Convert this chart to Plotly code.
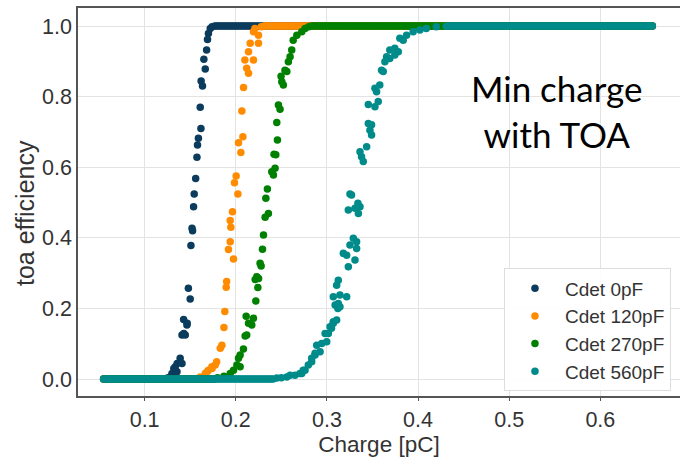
import numpy as np
import plotly.graph_objects as go

# Charge scan (pC) used for every Cdet setting
scan_start = 0.055
scan_stop = 0.658
scan_step = 0.002

series_names = ["Cdet 0pF", "Cdet 120pF", "Cdet 270pF", "Cdet 560pF"]
series_colors = ["#0b3c5d", "#ff8c00", "#008000", "#008b8b"]

# Efficiency is 0 below these charges and 1 above the second ones
zero_until = [0.125, 0.160, 0.178, 0.243]
one_from = [0.176, 0.230, 0.282, 0.433]

# Transition points
rise_x_0pF = [0.125, 0.128, 0.130, 0.132, 0.1336, 0.1355, 0.1357, 0.139, 0.141, 0.141,
              0.143, 0.1446, 0.1428, 0.1464, 0.1467, 0.148, 0.150, 0.1508, 0.1526, 0.152,
              0.1537, 0.1544, 0.156, 0.1574, 0.158, 0.159, 0.1618, 0.161, 0.1635, 0.162,
              0.1665, 0.165, 0.168, 0.169, 0.170, 0.172, 0.174]
rise_y_0pF = [0.003, 0.006, 0.016, 0.030, 0.035, 0.021, 0.044, 0.059, 0.044, 0.125,
              0.129, 0.125, 0.169, 0.153, 0.158, 0.257, 0.227, 0.378, 0.420, 0.427,
              0.488, 0.524, 0.568, 0.628, 0.663, 0.682, 0.710, 0.770, 0.830, 0.844,
              0.878, 0.906, 0.932, 0.962, 0.979, 0.993, 0.998]

rise_x_120pF = [0.161, 0.1665, 0.1686, 0.170, 0.1738, 0.174, 0.1774, 0.179, 0.183, 0.1848,
                0.187, 0.188, 0.1895, 0.190, 0.1975, 0.192, 0.1939, 0.1946, 0.1939, 0.1964,
                0.2023, 0.1986, 0.2004, 0.2056, 0.203, 0.2078, 0.2067, 0.2085, 0.214, 0.212,
                0.2194, 0.210, 0.214, 0.2158, 0.2249, 0.2194, 0.2249, 0.221, 0.228]
rise_y_120pF = [0.006, 0.016, 0.021, 0.025, 0.035, 0.030, 0.040, 0.049, 0.087, 0.096,
                0.146, 0.191, 0.260, 0.276, 0.340, 0.367, 0.389, 0.430, 0.449, 0.474,
                0.524, 0.556, 0.575, 0.642, 0.669, 0.686, 0.759, 0.826, 0.866, 0.880,
                0.904, 0.904, 0.927, 0.951, 0.951, 0.984, 0.974, 0.993, 0.998]

rise_x_270pF = [0.180, 0.187, 0.1939, 0.1975, 0.2012, 0.2048, 0.2048, 0.203, 0.2084, 0.212,
                0.2103, 0.214, 0.2176, 0.2114, 0.2194, 0.222, 0.2242, 0.2231, 0.225, 0.2213,
                0.2267, 0.2278, 0.2293, 0.2304, 0.2358, 0.2322, 0.233, 0.2347, 0.2413, 0.2431,
                0.2395, 0.242, 0.2439, 0.2457, 0.245, 0.2468, 0.2486, 0.2505, 0.2522, 0.2497,
                0.254, 0.256, 0.2577, 0.2596, 0.2614, 0.263, 0.267, 0.2724, 0.276, 0.280]
rise_y_270pF = [0.004, 0.008, 0.016, 0.025, 0.040, 0.035, 0.068, 0.059, 0.085, 0.125,
                0.122, 0.158, 0.153, 0.178, 0.172, 0.221, 0.259, 0.290, 0.285, 0.282,
                0.328, 0.320, 0.368, 0.408, 0.469, 0.458, 0.512, 0.538, 0.578, 0.597,
                0.587, 0.637, 0.635, 0.677, 0.727, 0.776, 0.764, 0.842, 0.833, 0.858,
                0.875, 0.871, 0.899, 0.913, 0.932, 0.960, 0.974, 0.984, 0.993, 0.998]

rise_x_560pF = [0.245, 0.250, 0.256, 0.2596, 0.265, 0.2705, 0.2724, 0.274, 0.276, 0.2796,
                0.2833, 0.2833, 0.287, 0.287, 0.2925, 0.2888, 0.2943, 0.2998, 0.298, 0.3016,
                0.305, 0.3034, 0.307, 0.307, 0.3107, 0.312, 0.3143, 0.309, 0.3125, 0.307,
                0.3217, 0.3143, 0.3107, 0.3125, 0.318, 0.3217, 0.3235, 0.3308, 0.3253, 0.329,
                0.3326, 0.3326, 0.3235, 0.3308, 0.3345, 0.3363, 0.327, 0.3253, 0.334, 0.3363,
                0.338, 0.3399, 0.3436, 0.3454, 0.349, 0.3472, 0.349, 0.3454, 0.3527, 0.3563,
                0.3545, 0.3527, 0.358, 0.3618, 0.360, 0.3636, 0.3655, 0.369, 0.3745, 0.369,
                0.3745, 0.3783, 0.380, 0.3837, 0.3874, 0.3946, 0.402, 0.409, 0.420, 0.431]
rise_y_560pF = [0.003, 0.004, 0.006, 0.011, 0.011, 0.016, 0.016, 0.025, 0.025, 0.040,
                0.049, 0.059, 0.068, 0.073, 0.077, 0.096, 0.101, 0.106, 0.129, 0.129,
                0.144, 0.148, 0.158, 0.162, 0.167, 0.200, 0.205, 0.210, 0.214, 0.233,
                0.233, 0.238, 0.266, 0.280, 0.356, 0.351, 0.318, 0.337, 0.380, 0.399,
                0.389, 0.370, 0.479, 0.484, 0.469, 0.488, 0.521, 0.524, 0.498, 0.644,
                0.630, 0.616, 0.658, 0.724, 0.720, 0.705, 0.691, 0.778, 0.771, 0.786,
                0.814, 0.824, 0.833, 0.871, 0.875, 0.899, 0.913, 0.908, 0.918, 0.932,
                0.937, 0.927, 0.965, 0.960, 0.974, 0.984, 0.989, 0.993, 0.998, 0.999]

rise_x = [rise_x_0pF, rise_x_120pF, rise_x_270pF, rise_x_560pF]
rise_y = [rise_y_0pF, rise_y_120pF, rise_y_270pF, rise_y_560pF]

x_ticks = [0.1, 0.2, 0.3, 0.4, 0.5, 0.6]
y_ticks = [0.0, 0.2, 0.4, 0.6, 0.8, 1.0]

scan = np.arange(scan_start, scan_stop + scan_step / 2, scan_step)

FONT = "Liberation Sans"
TXT = "#333333"
fig = go.Figure()
for i, name in enumerate(series_names):
    low = scan[scan <= zero_until[i]]
    high = scan[scan >= one_from[i]]
    xs = np.concatenate([low, np.array(rise_x[i]), high])
    ys = np.concatenate([np.zeros(len(low)), np.array(rise_y[i]), np.ones(len(high))])
    fig.add_trace(go.Scatter(
        x=xs, y=ys, mode="markers", name=name,
        marker=dict(size=7.5, color=series_colors[i], line=dict(width=0)),
    ))

L, T, B = 78, 8, 65
PH = 461 - T - B

fig.add_annotation(
    x=(557 - L) / 602, y=(396 - 111) / PH, xref="paper", yref="paper",
    text="Min charge<br>with TOA", showarrow=False,
    font=dict(family="Lato", size=35, color="#000000"),
    align="center", xanchor="center", yanchor="middle",
)
fig.add_annotation(
    x=-(L - 25) / 602, y=(396 - 213) / PH, xref="paper", yref="paper",
    text="toa efficiency", textangle=-90, showarrow=False,
    font=dict(family=FONT, size=25, color=TXT),
    xanchor="center", yanchor="middle",
)

fig.update_layout(
    width=680, height=461,
    margin=dict(l=L, r=0, t=T, b=B),
    paper_bgcolor="white", plot_bgcolor="white",
    font=dict(family=FONT, color=TXT),
    showlegend=True,
    legend=dict(
        x=0.985, y=0.012, xanchor="right", yanchor="bottom",
        bgcolor="rgba(255,255,255,0.9)", bordercolor="#dddddd", borderwidth=1,
        font=dict(family=FONT, size=19, color=TXT),
        itemsizing="trace", itemwidth=50,
    ),
    xaxis=dict(
        range=[0.0269, 0.6874], tickvals=x_ticks, ticktext=[f"{v:.1f}" for v in x_ticks],
        showgrid=True, gridcolor="#e3e3e3", gridwidth=1,
        showline=True, linecolor="#555555", linewidth=1.5, mirror=True,
        ticks="outside", ticklen=3, tickcolor="#555555",
        tickfont=dict(family=FONT, size=21.5, color=TXT),
        title=dict(text="Charge [pC]", font=dict(family=FONT, size=22.5, color=TXT), standoff=6),
        zeroline=False,
    ),
    yaxis=dict(
        range=[-0.048, 1.051], tickvals=y_ticks, ticktext=[f"{v:.1f}" for v in y_ticks],
        showgrid=True, gridcolor="#e3e3e3", gridwidth=1,
        showline=True, linecolor="#555555", linewidth=1.5, mirror=False,
        ticks="", tickfont=dict(family=FONT, size=21.5, color=TXT),
        zeroline=False,
    ),
)

fig.write_html("out.html")
